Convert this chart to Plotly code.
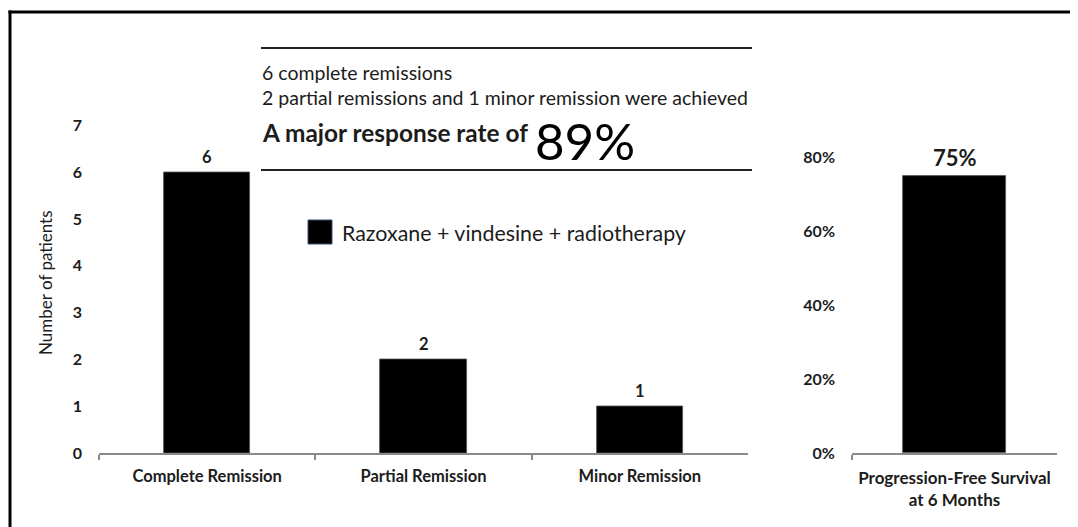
import plotly.graph_objects as go

# ---- data ----
categories = ["Complete Remission", "Partial Remission", "Minor Remission"]
patients = [6, 2, 1]
pfs_categories = ["Progression-Free Survival<br>at 6 Months"]
pfs_values = [0.75]
y_ticks_left = [0, 1, 2, 3, 4, 5, 6, 7]
y_ticks_right = [0, 0.2, 0.4, 0.6, 0.8]
legend_label = "Razoxane + vindesine + radiotherapy"
summary_lines = ["6 complete remissions",
                 "2 partial remissions and 1 minor remission were achieved"]
headline = "A major response rate of"
headline_value = "89%"

OFF = 8  # page body margin
PAGE_W, PAGE_H = 1078, 527
W, H = PAGE_W - OFF, PAGE_H - OFF
FONT = "Lato"
TXT = "#1c1c1c"
AX = "#8a8a8a"


def px(x):
    return (x - OFF) / W


def py(y):
    return 1 - (y - OFF) / H


fig = go.Figure()

fig.add_trace(go.Bar(
    x=categories, y=patients, width=0.4,
    marker=dict(color="black", line=dict(color="#555555", width=0.8)),
    xaxis="x", yaxis="y", showlegend=False, hoverinfo="skip",
))
fig.add_trace(go.Bar(
    x=pfs_categories, y=pfs_values, width=0.5,
    marker=dict(color="black", line=dict(color="#555555", width=0.8)),
    xaxis="x2", yaxis="y2", showlegend=False, hoverinfo="skip",
))

bold = dict(family=FONT, size=16, color=TXT, weight="bold")

fig.update_layout(
    template="none",
    width=W, height=H, autosize=False,
    margin=dict(l=0, r=0, t=0, b=0, pad=0),
    paper_bgcolor="white", plot_bgcolor="white",
    bargap=0,
    xaxis=dict(domain=[px(99), px(748)], anchor="y", type="category",
               range=[-0.5, 2.5], showline=True, linecolor=AX, linewidth=1.5,
               ticks="outside", tickson="boundaries", ticklen=5, tickcolor=AX,
               tickwidth=1.5, tickfont=dict(bold, size=16.5), showgrid=False,
               zeroline=False, ticklabelstandoff=7, automargin=False),
    yaxis=dict(domain=[py(453), py(125.4)], anchor="x", range=[0, 7],
               tickvals=y_ticks_left, showline=False, showgrid=False,
               zeroline=False, ticks="", tickfont=bold, ticklabelstandoff=16,
               automargin=False),
    xaxis2=dict(domain=[px(852), px(1057)], anchor="y2", type="category",
                range=[-0.5, 0.5], showline=True, linecolor=AX, linewidth=1.5,
                ticks="outside", tickson="boundaries", ticklen=5, tickcolor=AX,
                tickwidth=1.5, tickfont=dict(bold, size=17), showgrid=False,
                zeroline=False, ticklabelstandoff=9, automargin=False),
    yaxis2=dict(domain=[py(453), py(157)], anchor="x2", range=[0, 0.8],
                tickvals=y_ticks_right, tickformat=".0%", showline=False,
                showgrid=False, zeroline=False, ticks="", tickfont=bold,
                ticklabelstandoff=16, automargin=False),
)

annotations = []
# value labels on bars
for c, v in zip(categories, patients):
    annotations.append(dict(x=c, y=v, xref="x", yref="y", text=str(v),
                            showarrow=False, yanchor="middle", yshift=15,
                            font=dict(bold, size=16.5)))
for c, v in zip(pfs_categories, pfs_values):
    annotations.append(dict(x=c, y=v, xref="x2", yref="y2",
                            text=f"{v:.0%}", showarrow=False,
                            yanchor="middle", yshift=18,
                            font=dict(bold, size=22)))

# y-axis title
annotations.append(dict(x=px(45), y=py(283), xref="paper", yref="paper",
                        text="Number of patients", textangle=-90,
                        showarrow=False, xanchor="center", yanchor="middle",
                        font=dict(family=FONT, size=17, color=TXT)))

# summary text block
for i, line in enumerate(summary_lines):
    annotations.append(dict(x=px(260), y=py(72 + 25 * i), xref="paper",
                            yref="paper", text=line, showarrow=False,
                            xanchor="left", yanchor="middle",
                            font=dict(family=FONT, size=19.5, color=TXT)))
annotations.append(dict(x=px(260), y=py(133), xref="paper", yref="paper",
                        text=headline, showarrow=False, xanchor="left",
                        yanchor="middle",
                        font=dict(family=FONT, size=24.4, color=TXT,
                                  weight="bold")))
annotations.append(dict(x=px(533), y=py(140), xref="paper", yref="paper",
                        text=headline_value, showarrow=False, xanchor="left",
                        yanchor="middle",
                        font=dict(family=FONT, size=51, color="black")))

# legend text
annotations.append(dict(x=px(340), y=py(233), xref="paper", yref="paper",
                        text=legend_label, showarrow=False, xanchor="left",
                        yanchor="middle",
                        font=dict(family=FONT, size=21.4, color=TXT)))

fig.update_layout(annotations=annotations)

shapes = [
    # outer frame (only top and left edges are in view)
    dict(type="line", xref="paper", yref="paper", x0=px(8.5), x1=px(PAGE_W),
         y0=py(12), y1=py(12), line=dict(color="black", width=3)),
    dict(type="line", xref="paper", yref="paper", x0=px(10), x1=px(10),
         y0=py(10.5), y1=py(PAGE_H), line=dict(color="black", width=3)),
    # rules around summary text
    dict(type="line", xref="paper", yref="paper", x0=px(261), x1=px(752),
         y0=py(48), y1=py(48), line=dict(color="#222222", width=2)),
    dict(type="line", xref="paper", yref="paper", x0=px(261), x1=px(752),
         y0=py(170), y1=py(170), line=dict(color="#222222", width=2)),
    # legend swatch
    dict(type="rect", xref="paper", yref="paper", x0=px(308), x1=px(332),
         y0=py(244), y1=py(220), fillcolor="black",
         line=dict(color="#3a4a7a", width=1)),
]
fig.update_layout(shapes=shapes)

fig.write_html("out.html")
